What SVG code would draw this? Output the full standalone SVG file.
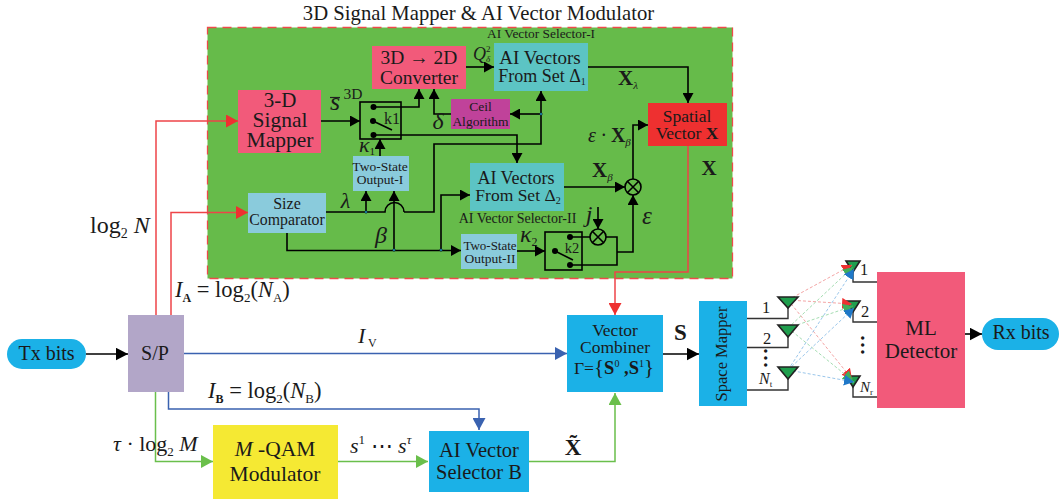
<svg xmlns="http://www.w3.org/2000/svg" width="1059" height="501" viewBox="0 0 1059 501">
<style>
text{font-family:"Liberation Serif","Times New Roman",serif;fill:#1a1a1a;text-anchor:middle}
.l{text-anchor:start}
.i{font-style:italic}
.b{font-weight:bold}
.n{font-style:normal}
.c{fill:none;stroke:#000;stroke-width:1.6}
.r{fill:none;stroke:#ee4448;stroke-width:1.5}
.u{fill:none;stroke:#3a62b0;stroke-width:1.5}
.g{fill:none;stroke:#6abf4b;stroke-width:1.5}
.a{fill:#1f9e4d;stroke:#222;stroke-width:1.6}
.d1{stroke:#f29a9a;stroke-width:.9;stroke-dasharray:3 2;fill:none}
.d2{stroke:#9ad8a8;stroke-width:.9;stroke-dasharray:3 2;fill:none}
.d3{stroke:#8fc0e8;stroke-width:.9;stroke-dasharray:3 2;fill:none}
</style>
<defs>
<marker id="k" markerUnits="userSpaceOnUse" markerWidth="11" markerHeight="11" refX="10" refY="5.500" orient="auto"><path d="M0,0L10,5.500L0,11Z" fill="#000"/></marker>
<marker id="K" markerUnits="userSpaceOnUse" markerWidth="13" markerHeight="13" refX="12.500" refY="6.500" orient="auto"><path d="M0,0L12.500,6.500L0,13Z" fill="#000"/></marker>
<marker id="kr" markerUnits="userSpaceOnUse" markerWidth="13" markerHeight="13" refX="12" refY="6.500" orient="auto"><path d="M0,0L12,6.500L0,13Z" fill="#ee3030"/></marker>
<marker id="ku" markerUnits="userSpaceOnUse" markerWidth="13" markerHeight="13" refX="12" refY="6.500" orient="auto"><path d="M0,0L12,6.500L0,13Z" fill="#3a62b0"/></marker>
<marker id="kg" markerUnits="userSpaceOnUse" markerWidth="13" markerHeight="13" refX="12" refY="6.500" orient="auto"><path d="M0,0L12,6.500L0,13Z" fill="#6abf4b"/></marker>
<marker id="s1" markerUnits="userSpaceOnUse" markerWidth="11" markerHeight="11" refX="10" refY="5.500" orient="auto"><path d="M0,0L10,5.500L0,11Z" fill="#ee3030"/></marker>
<marker id="s2" markerUnits="userSpaceOnUse" markerWidth="11" markerHeight="11" refX="10" refY="5.500" orient="auto"><path d="M0,0L10,5.500L0,11Z" fill="#3fae5a"/></marker>
<marker id="s3" markerUnits="userSpaceOnUse" markerWidth="11" markerHeight="11" refX="10" refY="5.500" orient="auto"><path d="M0,0L10,5.500L0,11Z" fill="#1f78c8"/></marker>
</defs>
<rect width="1059" height="501" fill="#fff"/>
<text x="478.500" y="20" font-size="20.700">3D Signal Mapper &amp; AI Vector Modulator</text>
<rect id="panel" x="207.500" y="27.500" width="525" height="251" fill="#66bb4a" stroke="#ee4a4a" stroke-width="1.300" stroke-dasharray="9 6"/>
<g id="signal-mapper"><rect x="238" y="90" width="83" height="63" fill="#f25a7a"/><text x="280" y="107" font-size="21">3-D</text><text x="280" y="127" font-size="21.500">Signal</text><text x="280" y="147" font-size="21.500">Mapper</text></g>
<g id="converter"><rect x="372" y="46" width="94" height="43" fill="#f25a7a"/><text x="419" y="64" font-size="19.500">3D → 2D</text><text x="419" y="84" font-size="19.500">Converter</text></g>
<g id="set1"><rect x="494" y="43" width="94" height="48" fill="#5cc4c4"/><text x="540" y="64" font-size="19">AI Vectors</text><text x="542" y="82" font-size="18">From Set Δ<tspan font-size="10" dy="3">1</tspan></text></g>
<g id="ceil"><rect x="451" y="99" width="59" height="30" fill="#c0429a"/><text x="480.500" y="111" font-size="13.500">Ceil</text><text x="480.500" y="126" font-size="13.500">Algorithm</text></g>
<g id="spatial"><rect x="648" y="103" width="79" height="43" fill="#ee3030"/><text x="687" y="122" font-size="17.500">Spatial</text><text x="687" y="139" font-size="17.500">Vector <tspan class="b">X</tspan></text></g>
<g id="two-state-1"><rect x="353" y="156" width="56" height="35" fill="#8acbdc"/><text x="380" y="171" font-size="13.500">Two-State</text><text x="380" y="184" font-size="13.500">Output-I</text></g>
<g id="size-comparator"><rect x="248" y="193" width="78" height="40" fill="#8acbdc"/><text x="287" y="209" font-size="16">Size</text><text x="287" y="225" font-size="15.800">Comparator</text></g>
<g id="set2"><rect x="470" y="163" width="94" height="48" fill="#5cc4c4"/><text x="516" y="184" font-size="18">AI Vectors</text><text x="518" y="201" font-size="17.500">From Set Δ<tspan font-size="10" dy="3">2</tspan></text></g>
<g id="two-state-2"><rect x="461" y="234" width="56" height="35" fill="#8acbdc"/><text x="490" y="250" font-size="13">Two-State</text><text x="490" y="263" font-size="13.500">Output-II</text></g>
<g id="tx"><rect x="7" y="339" width="79" height="30" rx="15" fill="#1bb1e7"/><text x="46.500" y="360" font-size="20">Tx bits</text></g>
<g id="sp"><rect x="128" y="315" width="56" height="77" fill="#b2a6c8"/><text x="155" y="360" font-size="20">S/P</text></g>
<g id="qam"><rect x="213" y="425" width="125" height="74" fill="#f5e933"/><text x="275" y="456" font-size="21.500"><tspan class="i">M</tspan> -QAM</text><text x="275" y="481" font-size="21.500">Modulator</text></g>
<g id="selector-b"><rect x="429" y="431" width="100" height="61" fill="#1bb1e7"/><text x="479" y="457" font-size="20.500">AI Vector</text><text x="479" y="479" font-size="20.500">Selector B</text></g>
<g id="combiner"><rect x="567" y="315" width="96" height="77" fill="#1bb1e7"/><text x="615" y="336" font-size="17.500">Vector</text><text x="615" y="353" font-size="17.500">Combiner</text><text x="614" y="374" font-size="17.500">Γ=<tspan font-size="21">{</tspan><tspan class="b" font-size="18.500">S</tspan><tspan font-size="10" dy="-7">0</tspan><tspan class="b" font-size="18.500" dy="7"> ,S</tspan><tspan font-size="10" dy="-7">1</tspan><tspan font-size="21" dy="7">}</tspan></text></g>
<g id="space-mapper"><rect x="699" y="301" width="48" height="105" fill="#1bb1e7"/><text transform="translate(727,354) rotate(-90)" font-size="16.500">Space Mapper</text></g>
<g id="ml"><rect x="877" y="272" width="88" height="136" fill="#f25a7a"/><text x="921" y="335" font-size="21">ML</text><text x="921" y="358" font-size="21">Detector</text></g>
<g id="rx"><rect x="982" y="318" width="77" height="32" rx="16" fill="#1bb1e7"/><text x="1021" y="339" font-size="20">Rx bits</text></g>
<g id="connectors">
<path class="r" marker-end="url(#kr)" d="M156,315V121H238"/>
<path class="r" marker-end="url(#kr)" d="M171,315V212.500H248"/>
<path class="r" marker-end="url(#kr)" d="M688,146V272H615V315"/>
<path class="u" marker-end="url(#ku)" d="M184,353.500H567"/>
<path class="u" marker-end="url(#ku)" d="M168.500,392V409H479V430"/>
<path class="g" marker-end="url(#kg)" d="M155.500,392V461.500H213"/>
<path class="g" marker-end="url(#kg)" d="M338,461.500H428"/>
<path class="g" marker-end="url(#kg)" d="M529,461.500H615V393"/>
<path class="c" marker-end="url(#K)" d="M86,354H128"/>
<path class="c" marker-end="url(#K)" d="M663,354H699"/>
<path class="c" marker-end="url(#K)" d="M965,334H982"/>
<path class="c" marker-end="url(#k)" d="M321,121H360"/>
<path class="c" marker-end="url(#k)" d="M373,107H419V89"/>
<path class="c" marker-end="url(#k)" d="M451,114H434V89"/>
<path class="c" marker-end="url(#k)" d="M373,135H517V163"/>
<path class="c" marker-end="url(#k)" d="M404,212H434V144H541V91"/>
<path class="c" marker-end="url(#k)" d="M541,114H510"/>
<path class="c" marker-end="url(#k)" d="M466,67H494"/>
<path class="c" marker-end="url(#k)" d="M588,67H688V103"/>
<path class="c" d="M326,212H385A9.500,9.500 0 0 1 404,212"/>
<path class="c" marker-end="url(#k)" d="M366,212V191"/>
<path class="c" marker-end="url(#k)" d="M394,250V191"/>
<path class="c" marker-end="url(#k)" d="M380,156V139"/>
<path class="c" marker-end="url(#k)" d="M287,233V250.500H461"/>
<path class="c" marker-end="url(#k)" d="M441,250V195H470"/>
<path class="c" marker-end="url(#k)" d="M517,251H545"/>
<path class="c" marker-end="url(#k)" d="M564,187H625"/>
<path class="c" marker-end="url(#k)" d="M598,207V229"/>
<path class="c" d="M570,237H590M606,237H617V265H570"/>
<path class="c" marker-end="url(#k)" d="M617,252H633V195"/>
<path class="c" marker-end="url(#k)" d="M633,179V125H648"/>
<rect class="c" x="360" y="102" width="41" height="37"/>
<rect class="c" x="545" y="232" width="37" height="38"/>
<path class="c" d="M373,121L392,130M555,251L573,260"/>
<circle cx="373.500" cy="107" r="3"/><circle cx="373.500" cy="135" r="3"/><circle cx="373" cy="121" r="3"/>
<circle cx="570" cy="237" r="3"/><circle cx="570" cy="265" r="3"/><circle cx="555" cy="251" r="3"/>
<g fill="#1bb1e7" stroke="#111" stroke-width=".6"><circle cx="366" cy="212" r="1.300"/><circle cx="394" cy="250" r="1.300"/><circle cx="441" cy="250" r="1.300"/><circle cx="541" cy="114" r="1.300"/></g>
<g class="c"><circle cx="598" cy="237" r="8"/><path d="M592.300,231.300L603.700,242.700M603.700,231.300L592.300,242.700"/><circle cx="633" cy="187" r="8"/><path d="M627.300,181.300L638.700,192.700M638.700,181.300L627.300,192.700"/></g>
<path d="M747,318.500H788V308M747,347.500H788V337M747,390H788V379M853,272V282H877M853,312V322H877M853,387V397H877" fill="none" stroke="#333" stroke-width="1.400"/>
<path class="a" d="M846,261H860L853,272ZM846,301H860L853,312ZM846,376H860L853,387Z"/>
<g class="d1"><path marker-end="url(#s1)" d="M788,300L852,265"/><path marker-end="url(#s1)" d="M788,300L852,304"/><path marker-end="url(#s1)" d="M788,300L852,379"/></g>
<g class="d2"><path marker-end="url(#s2)" d="M788,328L853,267"/><path marker-end="url(#s2)" d="M788,328L853,306"/><path marker-end="url(#s2)" d="M788,328L853,381"/></g>
<g class="d3"><path marker-end="url(#s3)" d="M788,370L854,269"/><path marker-end="url(#s3)" d="M788,370L854,308"/><path marker-end="url(#s3)" d="M788,370L854,382"/></g>
<path class="a" d="M778,297H798L788,308ZM778,325H798L788,337ZM778,367H798L788,379Z"/>
</g>
<g id="labels">
<text x="487" y="38" class="l" font-size="13.400">AI Vector Selector-I</text>
<text x="517.500" y="223" font-size="14">AI Vector Selector-II</text>
<text x="473" y="60" class="i l" font-size="18">Q</text>
<text x="486" y="52" class="l" font-size="9">2</text>
<text x="486" y="62" class="i l" font-size="9">δ</text>
<text x="618" y="85" class="b l" font-size="21">X<tspan class="i" font-weight="normal" font-size="11" dy="4">λ</tspan></text>
<text x="588" y="142" class="i l" font-size="20">ε · <tspan class="b n">X</tspan><tspan font-size="11" dy="4">β</tspan></text>
<text x="592" y="177" class="b l" font-size="21">X<tspan class="i" font-weight="normal" font-size="11" dy="4">β</tspan></text>
<text x="709" y="175" class="b" font-size="21">X</text>
<text x="647" y="224" class="i" font-size="25">ε</text>
<text x="589" y="222" class="i" font-size="24">j</text>
<text x="520" y="242" class="i l" font-size="24">κ<tspan class="n" font-size="12" dy="4">2</tspan></text>
<text x="359" y="152" class="i l" font-size="22">κ<tspan class="n" font-size="11" dy="3">1</tspan></text>
<text x="345.500" y="208" class="i" font-size="22">λ</text>
<text x="381" y="243" class="i" font-size="24">β</text>
<text x="438" y="129" class="i" font-size="24">δ</text>
<text x="335" y="110" class="i" font-size="26">s</text>
<path d="M330,97.500H340" stroke="#222" stroke-width="1.200"/>
<text x="353" y="99" font-size="15.500">3D</text>
<text x="392" y="124" font-size="16">k1</text>
<text x="572" y="253" font-size="14.500">k2</text>
<text x="90" y="233" class="l" font-size="24">log<tspan font-size="14" dy="5">2</tspan><tspan class="i" dy="-5"> N</tspan></text>
<text x="175" y="297" class="l" font-size="22.500"><tspan class="i">I</tspan><tspan class="b" font-size="12" dy="5">A</tspan><tspan dy="-5"> = log</tspan><tspan font-size="13" dy="5">2</tspan><tspan dy="-5">(</tspan><tspan class="i">N</tspan><tspan font-size="13" dy="5">A</tspan><tspan dy="-5">)</tspan></text>
<text x="208" y="398" class="l" font-size="22.500"><tspan class="i">I</tspan><tspan class="b" font-size="12" dy="5">B</tspan><tspan dy="-5"> = log</tspan><tspan font-size="13" dy="5">2</tspan><tspan dy="-5">(</tspan><tspan class="i">N</tspan><tspan font-size="13" dy="5">B</tspan><tspan dy="-5">)</tspan></text>
<text x="113" y="451" class="l" font-size="22"><tspan class="i">τ</tspan> · log<tspan font-size="13" dy="5">2</tspan><tspan class="i" dy="-5"> M</tspan></text>
<text x="358" y="343" class="l" font-size="22"><tspan class="i">I</tspan><tspan font-size="12" dy="4"> V</tspan></text>
<text x="350" y="453" class="l" font-size="22"><tspan class="i">s</tspan><tspan font-size="13" dy="-9">1</tspan><tspan dy="9"> ⋯ </tspan><tspan class="i">s</tspan><tspan class="i" font-size="13" dy="-9">τ</tspan></text>
<text x="573" y="455" class="b" font-size="23">X̃</text>
<text x="680.500" y="340" class="b" font-size="23">S</text>
<text x="766" y="313" font-size="16.500">1</text><text x="767" y="344" font-size="16.500">2</text>
<text x="759" y="384" class="i l" font-size="16">N<tspan class="n" font-size="9" dy="3">t</tspan></text>
<text transform="translate(764,358) rotate(90)" font-size="28">...</text>
<text x="864" y="275" font-size="16.500">1</text><text x="865" y="317" font-size="16.500">2</text>
<text x="860" y="392" class="i l" font-size="15">N<tspan class="n" font-size="9" dy="3">r</tspan></text>
<text transform="translate(861,345) rotate(90)" font-size="28">...</text>
</g>
</svg>
